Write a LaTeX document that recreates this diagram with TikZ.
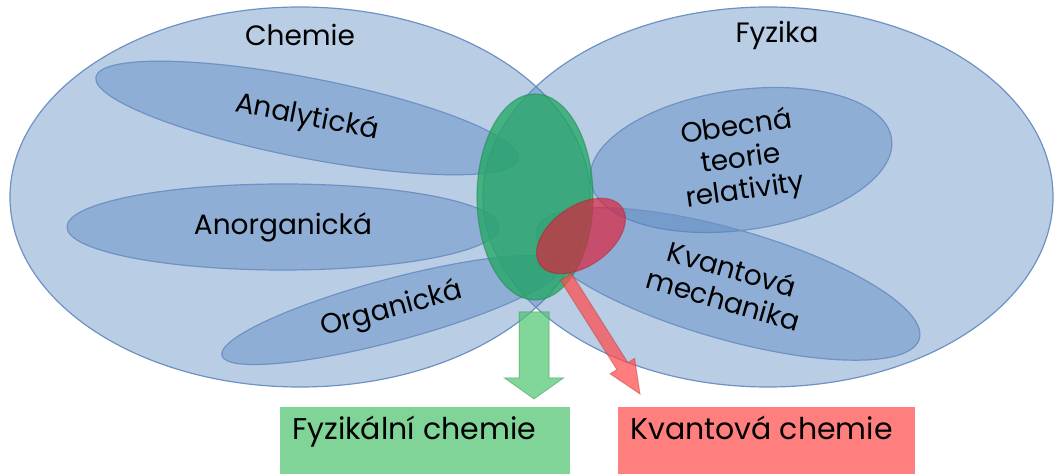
\documentclass[tikz,border=0pt]{standalone}
\usepackage{fontspec}
\setmainfont{Poppins}
\usetikzlibrary{shapes.geometric,positioning,calc}
\definecolor{setblue}{HTML}{4F81BD}
\definecolor{setline}{HTML}{6F92C4}
\definecolor{chemgreen}{HTML}{20A860}
\definecolor{arrgreen}{HTML}{4CC46E}
\definecolor{boxgreen}{HTML}{80D498}
\definecolor{qred}{HTML}{E0203A}
\definecolor{arrred}{HTML}{FF4B4B}
\definecolor{boxred}{HTML}{FF7F7F}

\begin{document}
\begin{tikzpicture}[
    x=0.5pt, y=-0.5pt,
    field/.style={ellipse,draw=setline,line width=0.6pt,fill=setblue,fill opacity=0.4,text opacity=1,inner sep=0pt,font=\fontsize{14}{16}\selectfont,align=center},
    title/.style={font=\fontsize{14}{16}\selectfont},
    overlap/.style={ellipse,inner sep=0pt,line width=0.6pt},
    outbox/.style={anchor=north west,minimum width=145pt,minimum height=33.5pt,inner sep=0pt},
    boxlabel/.style={font=\fontsize{15}{17}\selectfont,inner sep=0pt},
    blockarrow/.style={line width=0.5pt}
]
\useasboundingbox (0,0) rectangle (1058,474);

% main fields
\node[field,minimum width=290pt,minimum height=190pt] (chem) at (300,197) {};
\node[field,minimum width=285pt,minimum height=190pt] (fyz) at (768,197) {};
\node[title] (chemlbl) at (300,35) {Chemie};
\node[title] (fyzlbl) at (777,35) {Fyzika};

% sub fields
\node[field,minimum width=215pt,minimum height=40pt,rotate=-11] (anal) at (307,118) {Analytická};
\node[field,minimum width=216pt,minimum height=43pt] (anorg) at (283,227) {Anorganická};
\node[field,minimum width=176pt,minimum height=31pt,rotate=15] (org) at (392,310) {Organická};
\node[field,minimum width=152pt,minimum height=70pt,rotate=8] (otr) at (741,160) {Obecná\\teorie\\relativity};
\node[field,minimum width=199pt,minimum height=55pt,rotate=-16] (qm) at (728,284) {Kvantová\\mechanika};

% overlaps
\node[overlap,fill=chemgreen,fill opacity=0.75,draw=chemgreen!80!black,draw opacity=0.5,minimum width=58pt,minimum height=103pt] (fyzch) at (535,197) {};
\node[overlap,fill=qred,fill opacity=0.68,draw=qred!80!black,draw opacity=0.4,minimum width=50pt,minimum height=30pt,rotate=35] (kvch) at (581,236) {};

% arrows
\coordinate (gs) at (534,312);
\coordinate (gt) at (534,399);
\coordinate (gh) at ($(gt)!10.5pt!(gs)$);
\filldraw[blockarrow,fill=arrgreen,fill opacity=0.7,draw=arrgreen!70!black,draw opacity=0.4]
  ($(gs)!7.5pt!90:(gt)$) -- ($(gh)!7.5pt!90:(gt)$) -- ($(gh)!14.75pt!90:(gt)$) -- (gt)
  -- ($(gh)!14.75pt!-90:(gt)$) -- ($(gh)!7.5pt!-90:(gt)$) -- ($(gs)!7.5pt!-90:(gt)$) -- cycle;
\coordinate (rs) at (566,277);
\coordinate (rt) at (640,394);
\coordinate (rh) at ($(rt)!16.5pt!(rs)$);
\filldraw[blockarrow,fill=arrred,fill opacity=0.72,draw=arrred!70!black,draw opacity=0.4]
  ($(rs)!3.25pt!90:(rt)$) -- ($(rh)!3.25pt!90:(rt)$) -- ($(rh)!7.25pt!90:(rt)$) -- (rt)
  -- ($(rh)!7.25pt!-90:(rt)$) -- ($(rh)!3.25pt!-90:(rt)$) -- ($(rs)!3.25pt!-90:(rt)$) -- cycle;

% result boxes
\node[outbox,fill=boxgreen] (fyzbox) at (280,407) {};
\node[outbox,fill=boxred,minimum width=148.5pt] (kvbox) at (618,407) {};
\node[boxlabel,below right=4.5pt and 6pt of fyzbox.north west] (fyzboxlbl) {Fyzikální chemie};
\node[boxlabel,below right=4.5pt and 6pt of kvbox.north west] (kvboxlbl) {Kvantová chemie};

\end{tikzpicture}
\end{document}
